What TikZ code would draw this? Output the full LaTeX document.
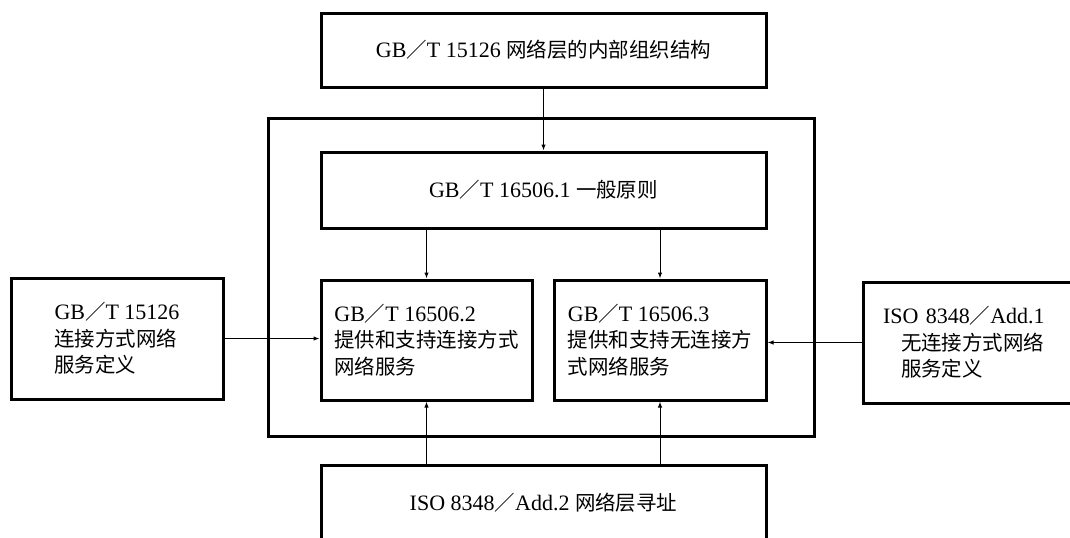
\documentclass[tikz,border=0pt]{standalone}
\usepackage{fontspec}
\setmainfont{Liberation Serif}
\newfontfamily\cjk[Scale=0.93]{Noto Sans CJK SC}
\newcommand{\zh}[1]{{\cjk #1}}
\usetikzlibrary{arrows.meta}
\begin{document}
\begin{tikzpicture}[x=0.5pt, y=-0.5pt,
	box/.style={draw, line width=1.5pt, align=left, inner sep=0pt, font=\fontsize{11}{13.25}\selectfont},
	link/.style={line width=0.5pt, -{Latex[length=3pt,width=2.2pt]}}]
\useasboundingbox (0,0) rectangle (1070,537);
% frame round the three parts of the standard
\node[draw, line width=1.5pt, minimum width=273pt, minimum height=159pt] (grp) at (541,277) {};
\node[box, minimum width=222.5pt, minimum height=37pt] (org) at (543.5,50) {GB\zh{／}T 15126 \zh{网络层的内部组织结构}};
\node[box, minimum width=222.5pt, minimum height=38pt] (gen) at (543.5,190) {GB\zh{／}T 16506.1 \zh{一般原则}};
\node[box, minimum width=105.5pt, minimum height=60pt] (conn) at (426.5,340) {GB\zh{／}T 16506.2\\\zh{提供和支持连接方式}\\\zh{网络服务}};
\node[box, minimum width=106pt, minimum height=60pt] (cl) at (660,340) {GB\zh{／}T 16506.3\\\zh{提供和支持无连接方}\\\zh{式网络服务}};
\node[box, minimum width=106pt, minimum height=60.5pt] (connsvc) at (117,338.5) {GB\zh{／}T 15126\\\zh{连接方式网络}\\\zh{服务定义}};
\node[box, inner xsep=10pt, text width=95pt, minimum height=60.5pt] (clsvc) at (978,342.5) {ISO 8348\zh{／}Add.1\\\hspace*{9pt}\zh{无连接方式网络}\\\hspace*{9pt}\zh{服务定义}};
\node[box, minimum width=222.5pt, minimum height=38pt] (addr) at (543.5,503) {ISO 8348\zh{／}Add.2 \zh{网络层寻址}};
% connectors
\draw[link] (org.south) -- (gen.north);
\draw[link] (conn.north |- gen.south) -- (conn.north);
\draw[link] (cl.north |- gen.south) -- (cl.north);
\draw[link] (conn.south |- addr.north) -- (conn.south);
\draw[link] (cl.south |- addr.north) -- (cl.south);
\draw[link] (connsvc.east) -- (connsvc.east -| conn.west);
\draw[link] (clsvc.west) -- (clsvc.west -| cl.east);
\end{tikzpicture}
\end{document}
